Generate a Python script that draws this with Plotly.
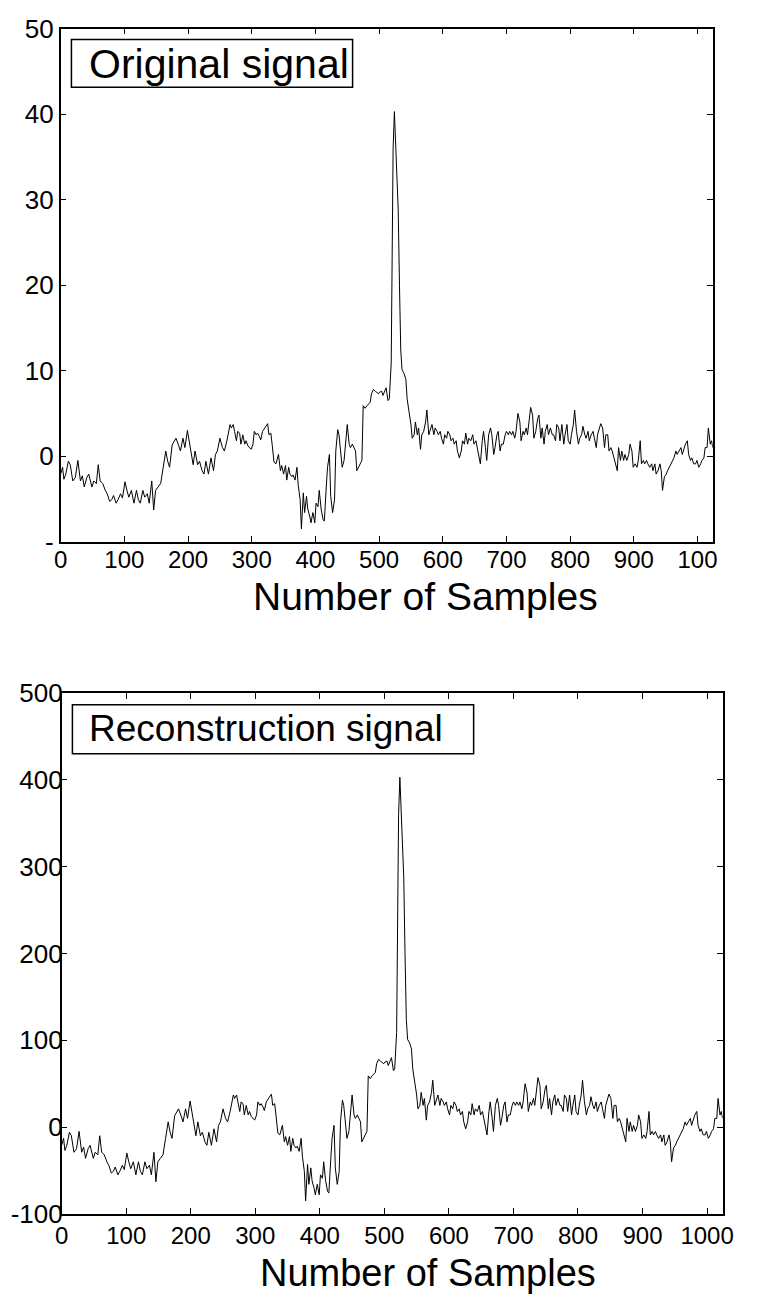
import plotly.graph_objects as go

W, H = 757, 1309

samples = [
    0, 3, 5, 8, 12, 15, 19, 23, 27, 31,
    34, 37, 41, 44, 49, 52, 56, 59, 62, 66,
    70, 73, 77, 80, 83, 87, 90, 94, 97, 101,
    104, 107, 111, 115, 119, 122, 125, 129, 132, 136,
    139, 143, 146, 149, 153, 157, 161, 165, 168, 171,
    175, 178, 181, 185, 188, 192, 195, 199, 203, 206,
    208, 211, 215, 218, 222, 225, 228, 232, 236, 240,
    243, 246, 250, 254, 257, 261, 266, 268, 271, 273,
    276, 278, 281, 283, 286, 289, 291, 294, 296, 299,
    302, 304, 307, 309, 312, 314, 317, 320, 322, 325,
    327, 330, 332, 335, 338, 340, 342, 345, 347, 350,
    353, 355, 358, 360, 363, 365, 368, 371, 373, 376,
    378, 381, 383, 386, 388, 391, 393, 396, 399, 401,
    404, 406, 409, 412, 414, 417, 419, 422, 424, 427,
    430, 432, 435, 437, 440, 442, 445, 448, 450, 453,
    455, 458, 460, 463, 465, 468, 470, 473, 475, 478,
    481, 483, 486, 488, 491, 494, 496, 499, 501, 504,
    506, 509, 511, 514, 516, 519, 521, 522, 524, 527,
    530, 532, 534, 536, 539, 542, 544, 547, 550, 552,
    555, 557, 560, 562, 565, 567, 570, 573, 575, 578,
    580, 583, 586, 588, 591, 593, 596, 598, 601, 603,
    606, 608, 611, 613, 616, 618, 621, 623, 626, 629,
    631, 634, 636, 639, 641, 644, 647, 649, 652, 654,
    657, 659, 662, 664, 667, 669, 672, 675, 677, 680,
    682, 685, 687, 690, 692, 695, 698, 700, 703, 705,
    708, 710, 713, 715, 718, 721, 723, 726, 728, 731,
    733, 736, 738, 741, 743, 746, 749, 751, 754, 756,
    759, 761, 764, 766, 769, 772, 774, 777, 779, 782,
    784, 787, 790, 792, 795, 797, 800, 802, 805, 807,
    810, 813, 815, 818, 820, 823, 825, 828, 830, 833,
    836, 838, 841, 843, 846, 848, 851, 854, 856, 859,
    861, 864, 866, 869, 871, 874, 876, 879, 881, 884,
    886, 889, 892, 894, 897, 899, 902, 905, 907, 910,
    912, 915, 917, 920, 922, 925, 928, 930, 933, 935,
    938, 941, 943, 945, 948, 951, 953, 956, 958, 961,
    963, 966, 968, 971, 974, 976, 979, 981, 984, 986,
    989, 991, 994, 997, 999, 1002, 1005, 1007, 1010, 1012,
    1015, 1017, 1020, 1022, 1024,
]

original = [
    -2.1, -1.3, -2.7, -2.1, -0.6, -1.0, -2.9, -2.5, -0.5, -2.9,
    -2.3, -3.6, -2.5, -2.1, -3.6, -2.9, -3.2, -1.0, -2.9, -3.2,
    -4.0, -4.4, -5.3, -5.1, -4.6, -5.5, -5.1, -4.4, -4.9, -3.0,
    -4.0, -4.8, -4.0, -5.5, -4.0, -5.1, -5.5, -4.0, -4.8, -4.4,
    -5.5, -2.9, -6.3, -4.0, -3.6, -3.2, -1.3, 0.6, -0.6, -1.3,
    1.3, 1.7, 2.1, 1.3, 0.6, 2.1, 1.0, 3.0, 1.3, 0.2,
    -1.0, 0.6, -1.0, -0.6, -1.7, -2.1, -0.6, -2.1, -0.2, -1.7,
    0.2, 0.6, 2.1, 1.0, 0.6, 1.8, 3.7, 3.3, 3.7, 2.9,
    1.8, 2.9, 2.7, 1.4, 2.5, 1.4, 1.8, 1.2, 1.0, 0.8,
    1.4, 2.9, 2.5, 2.7, 2.3, 1.9, 2.9, 3.3, 3.5, 3.8,
    2.5, 2.7, 1.4, -0.7, -0.9, -0.3, 0.2, -1.7, -1.1, -2.1,
    -1.1, -2.8, -1.3, -2.1, -2.4, -2.2, -2.8, -1.3, -3.4, -5.1,
    -8.5, -4.3, -6.6, -4.7, -6.2, -7.0, -7.8, -6.6, -7.8, -5.5,
    -5.9, -4.0, -6.2, -7.4, -7.6, -3.6, -1.3, 0.2, -4.7, -6.6,
    -5.1, 0.6, 3.1, 2.5, -0.2, -1.3, -0.5, 1.8, 3.7, 1.4,
    1.0, 1.4, 1.0, 0.6, -1.7, -1.3, -0.9, -0.5, 5.9, 5.6,
    5.9, 6.1, 6.3, 7.3, 7.8, 7.6, 7.5, 7.3, 7.5, 7.6,
    7.1, 7.8, 8.0, 6.5, 6.7, 10.9, 25.0, 36.0, 40.3, 34.0,
    28.8, 20.0, 12.4, 10.1, 9.7, 9.0, 6.7, 5.2, 3.7, 2.1,
    2.5, 4.0, 2.5, 3.3, 0.8, 2.5, 2.9, 4.0, 5.4, 2.5,
    2.9, 3.7, 2.5, 3.3, 2.9, 2.5, 2.9, 2.1, 1.4, 2.5,
    2.1, 2.9, 2.5, 1.8, 2.1, 1.4, 1.8, 0.6, -0.2, 0.6,
    1.8, 1.4, 2.7, 1.4, 2.1, 1.8, 2.5, 1.4, 1.8, 1.0,
    0.2, -0.9, 1.8, 2.9, 1.0, -0.5, 2.5, 3.3, 2.5, 0.2,
    1.0, 2.5, 2.9, 0.6, 1.4, 1.4, 2.5, 2.9, 2.5, 2.9,
    2.5, 2.9, 2.1, 2.9, 5.0, 4.0, 1.8, 2.9, 2.5, 3.3,
    2.5, 4.4, 5.7, 4.8, 2.1, 2.9, 4.4, 4.8, 2.1, 3.3,
    1.4, 2.9, 3.7, 2.5, 3.3, 2.5, 2.5, 1.8, 3.7, 3.3,
    1.8, 3.7, 1.4, 2.5, 3.7, 1.8, 1.4, 2.5, 3.7, 5.4,
    2.9, 1.4, 2.1, 2.5, 3.5, 2.5, 2.1, 2.9, 1.8, 2.5,
    2.9, 2.1, 1.0, 2.5, 3.3, 3.8, 3.3, 1.0, 2.5, 2.5,
    0.6, 1.0, 0.6, -0.2, -0.9, -1.7, 1.0, -0.5, 0.6, -0.5,
    0.2, -0.5, 0.2, 1.4, 0.6, -1.3, -0.9, -1.3, -0.5, 1.8,
    -0.9, -0.5, -0.9, -0.5, -0.9, -1.3, -0.9, -1.7, -0.9, -2.1,
    -1.7, -0.9, -1.7, -4.0, -2.4, -2.1, -1.7, -1.3, -0.9, -0.5,
    -0.2, 0.6, 0.2, 0.6, 1.0, 0.2, 1.0, 1.4, 1.8, 0.2,
    -0.5, -0.2, -0.9, -0.9, -0.5, -1.3, -0.9, -0.5, -0.2, 1.0,
    1.0, 3.3, 1.4, 1.8, 1.0,
]

reconstruction = [
    -21, -13, -27, -21, -6, -10, -29, -25, -5, -29,
    -23, -36, -25, -21, -36, -29, -32, -10, -29, -32,
    -40, -44, -53, -51, -46, -55, -51, -44, -49, -30,
    -40, -48, -40, -55, -40, -51, -55, -40, -48, -44,
    -55, -29, -63, -40, -36, -32, -13, 6, -6, -13,
    13, 17, 21, 13, 6, 21, 10, 30, 13, 2,
    -10, 6, -10, -6, -17, -21, -6, -21, -2, -17,
    2, 6, 21, 10, 6, 18, 37, 33, 37, 29,
    18, 29, 27, 14, 25, 14, 18, 12, 10, 8,
    14, 29, 25, 27, 23, 19, 29, 33, 35, 38,
    25, 27, 14, -7, -9, -3, 2, -17, -11, -21,
    -11, -28, -13, -21, -24, -22, -28, -13, -34, -51,
    -85, -43, -66, -47, -62, -70, -78, -66, -78, -55,
    -59, -40, -62, -74, -76, -36, -13, 2, -47, -66,
    -51, 6, 31, 25, -2, -13, -5, 18, 37, 14,
    10, 14, 10, 6, -17, -13, -9, -5, 59, 56,
    59, 61, 63, 73, 78, 76, 75, 73, 75, 76,
    71, 78, 80, 65, 67, 109, 250, 360, 403, 340,
    288, 200, 124, 101, 97, 90, 67, 52, 37, 21,
    25, 40, 25, 33, 8, 25, 29, 40, 54, 25,
    29, 37, 25, 33, 29, 25, 29, 21, 14, 25,
    21, 29, 25, 18, 21, 14, 18, 6, -2, 6,
    18, 14, 27, 14, 21, 18, 25, 14, 18, 10,
    2, -9, 18, 29, 10, -5, 25, 33, 25, 2,
    10, 25, 29, 6, 14, 14, 25, 29, 25, 29,
    25, 29, 21, 29, 50, 40, 18, 29, 25, 33,
    25, 44, 57, 48, 21, 29, 44, 48, 21, 33,
    14, 29, 37, 25, 33, 25, 25, 18, 37, 33,
    18, 37, 14, 25, 37, 18, 14, 25, 37, 54,
    29, 14, 21, 25, 35, 25, 21, 29, 18, 25,
    29, 21, 10, 25, 33, 38, 33, 10, 25, 25,
    6, 10, 6, -2, -9, -17, 10, -5, 6, -5,
    2, -5, 2, 14, 6, -13, -9, -13, -5, 18,
    -9, -5, -9, -5, -9, -13, -9, -17, -9, -21,
    -17, -9, -17, -40, -24, -21, -17, -13, -9, -5,
    -2, 6, 2, 6, 10, 2, 10, 14, 18, 2,
    -5, -2, -9, -9, -5, -13, -9, -5, -2, 10,
    10, 33, 14, 18, 10,
]

x_ticks = [0, 100, 200, 300, 400, 500, 600, 700, 800, 900, 1000]
x_ticktext_top = ["0", "100", "200", "300", "400", "500", "600", "700", "800", "900", "100"]
x_ticktext_bottom = ["0", "100", "200", "300", "400", "500", "600", "700", "800", "900", "1000"]
y_ticks_top = [-10, 0, 10, 20, 30, 40, 50]
y_ticktext_top = ["-", "0", "10", "20", "30", "40", "50"]
y_ticks_bottom = [-100, 0, 100, 200, 300, 400, 500]
y_ticktext_bottom = ["-100", "0", "100", "200", "300", "400", "500"]

FONT = "Liberation Sans, Arial, sans-serif"


def px(v):
    return v / W


def py(v):
    return 1 - v / H


fig = go.Figure()
fig.add_trace(go.Scatter(x=samples, y=original, mode="lines",
                         line=dict(color="black", width=1), xaxis="x", yaxis="y",
                         hoverinfo="skip"))
fig.add_trace(go.Scatter(x=samples, y=reconstruction, mode="lines",
                         line=dict(color="black", width=1), xaxis="x2", yaxis="y2",
                         hoverinfo="skip"))

axis_common = dict(showgrid=False, zeroline=False, showline=True, linecolor="black",
                   linewidth=1.5, mirror="ticks", ticks="inside", ticklen=6,
                   tickcolor="black", tickwidth=1)

fig.update_layout(
    width=W, height=H,
    margin=dict(l=0, r=0, t=0, b=0),
    paper_bgcolor="white", plot_bgcolor="white",
    showlegend=False,
    xaxis=dict(domain=[px(55), px(723)], range=[0, 1024], anchor="y",
               tickvals=x_ticks, ticktext=x_ticktext_top,
               tickfont=dict(family=FONT, size=24, color="black"),
               ticklabelstandoff=-4,
               **axis_common),
    yaxis=dict(domain=[py(539), py(14)], range=[-10, 50], anchor="x",
               tickvals=y_ticks_top, ticktext=y_ticktext_top,
               tickfont=dict(family=FONT, size=26, color="black"),
               **axis_common),
    xaxis2=dict(domain=[px(56), px(733)], range=[0, 1024], anchor="y2",
                tickvals=x_ticks, ticktext=x_ticktext_bottom,
                tickfont=dict(family=FONT, size=24, color="black"),
                ticklabelstandoff=0,
                **axis_common),
    yaxis2=dict(domain=[py(1227), py(694)], range=[-100, 500], anchor="x2",
                tickvals=y_ticks_bottom, ticktext=y_ticktext_bottom,
                tickfont=dict(family=FONT, size=26, color="black"),
                ticklabelstandoff=-8,
                **axis_common),
)

# legend-style boxes
fig.add_shape(type="rect", xref="paper", yref="paper",
              x0=px(66), x1=px(354), y0=py(74), y1=py(25),
              line=dict(color="black", width=1.5), fillcolor="white")
fig.add_shape(type="rect", xref="paper", yref="paper",
              x0=px(67), x1=px(478), y0=py(756), y1=py(706),
              line=dict(color="black", width=1.5), fillcolor="white")

fig.add_annotation(text="Original signal", xref="paper", yref="paper",
                   x=px(82), y=py(50), xanchor="left", yanchor="middle",
                   showarrow=False, font=dict(family=FONT, size=41, color="black"))
fig.add_annotation(text="Reconstruction signal", xref="paper", yref="paper",
                   x=px(82), y=py(730), xanchor="left", yanchor="middle",
                   showarrow=False, font=dict(family=FONT, size=37, color="black"))

# axis titles
fig.add_annotation(text="Number of Samples", xref="paper", yref="paper",
                   x=px(429), y=py(595), xanchor="center", yanchor="middle",
                   showarrow=False, font=dict(family=FONT, size=39, color="black"))
fig.add_annotation(text="Number of Samples", xref="paper", yref="paper",
                   x=px(431), y=py(1288), xanchor="center", yanchor="middle",
                   showarrow=False, font=dict(family=FONT, size=38, color="black"))

fig.write_html("out.html")
